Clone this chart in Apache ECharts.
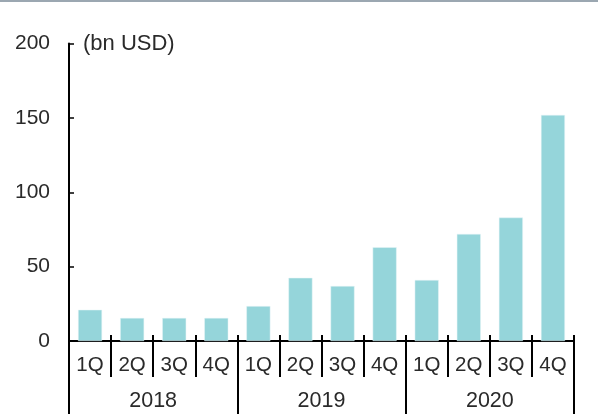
<!DOCTYPE html>
<html>
<head>
<meta charset="utf-8">
<script src="https://cdn.jsdelivr.net/npm/echarts@6/dist/echarts.min.js"></script>
<style>html,body{margin:0;padding:0;background:#fff}#c{width:598px;height:414px}</style>
</head>
<body>
<div id="c"></div>
<script>
var quarters = ['1Q','2Q','3Q','4Q','1Q','2Q','3Q','4Q','1Q','2Q','3Q','4Q'];
var years = ['2018','2019','2020'];
var values = [21, 15.5, 15.5, 15.5, 23.5, 42.5, 37, 63, 41, 72, 83, 152];
var yTicks = [0, 50, 100, 150, 200];

var FONT = 'Liberation Sans, Arial, sans-serif';
var chart = echarts.init(document.getElementById('c'));
chart.setOption({
  animation: false,
  graphic: [{type:'rect', left:0, top:0, shape:{width:598, height:2}, style:{fill:'#9ba7b1'}}],
  grid: {left: 69, right: 24, top: 43.5, bottom: 73, containLabel: false},
  xAxis: [
    {type:'category', data: quarters, position:'bottom',
     axisLine:{show:true, lineStyle:{color:'#000', width:2}},
     axisTick:{show:true, inside:false, length:36, lineStyle:{color:'#000', width:2}},
     axisLabel:{color:'#2a2a2a', fontSize:20.5, fontFamily:FONT, margin:14}},
    {type:'category', data: quarters, position:'bottom',
     axisLine:{show:false},
     axisTick:{show:true, inside:true, length:6, lineStyle:{color:'#000', width:2}},
     axisLabel:{show:false}},
    {type:'category', data: years, position:'bottom',
     axisLine:{show:false},
     axisTick:{show:true, inside:false, length:80, lineStyle:{color:'#000', width:2}},
     axisLabel:{color:'#2a2a2a', fontSize:21.5, fontFamily:FONT, margin:49}}
  ],
  yAxis: {type:'value', min:0, max:200, interval:50,
    name:'(bn USD)', nameLocation:'end', nameGap:0,
    nameTextStyle:{color:'#2a2a2a', fontSize:22, fontFamily:FONT, align:'left', verticalAlign:'middle', padding:[0,0,0,14]},
    axisLine:{show:true, lineStyle:{color:'#000', width:2}},
    axisTick:{show:true, inside:true, length:5, lineStyle:{color:'#000', width:1.5}},
    axisLabel:{color:'#2a2a2a', fontSize:21, fontFamily:FONT, margin:19,
      formatter: function(v){ return yTicks.indexOf(v) >= 0 ? String(v) : ''; }},
    splitLine:{show:false}},
  series: [{type:'bar', data: values, xAxisIndex:0, barWidth:24,
    itemStyle:{color:'#95d5da', borderColor:'#e6f5f6', borderWidth:0.5}}]
});
</script>
</body>
</html>
